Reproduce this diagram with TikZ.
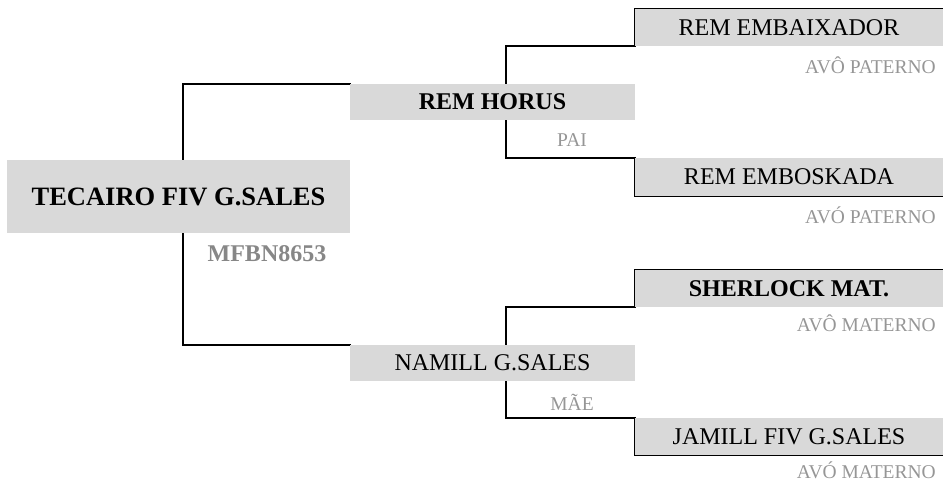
\documentclass[tikz,border=0pt]{standalone}
\usepackage{fontspec}
\setmainfont{Liberation Serif}
\usetikzlibrary{backgrounds}
\definecolor{boxgray}{RGB}{217,217,217}
\definecolor{lblgray}{RGB}{150,150,150}
\definecolor{idgray}{RGB}{135,135,135}
\begin{document}
\begin{tikzpicture}[x=1pt,y=-1pt,
  box/.style={fill=boxgray, inner sep=0pt, text=black},
  conn/.style={line width=2pt, black, line cap=rect},
  maintext/.style={font=\fontsize{26.5}{30}\selectfont\bfseries},
  pnreg/.style={font=\fontsize{24}{28}\selectfont},
  pnbold/.style={font=\fontsize{24}{28}\selectfont\bfseries},
  lbl/.style={font=\fontsize{19.5}{22}\selectfont, text=lblgray, inner sep=0pt}
]
\useasboundingbox (0,0) rectangle (943,482);
% nodes
\node[box, maintext, minimum width=343pt, minimum height=73pt] (main) at (178.5,196.5) {TECAIRO FIV G.SALES};
\node[pnbold, text=idgray, inner sep=0pt] (reg) at (267,254) {MFBN8653};
\node[box, pnbold, minimum width=285pt, minimum height=36pt] (father) at (492.5,102) {REM HORUS};
\node[lbl] (pai) at (572,140) {PAI};
\node[box, pnreg, minimum width=285pt, minimum height=36pt] (mother) at (492.5,363) {NAMILL G.SALES};
\node[lbl] (mae) at (572,402) {MÃE};
\node[box, pnreg, minimum width=308pt, minimum height=37pt] (gp1) at (789,27.5) {REM EMBAIXADOR};
\node[lbl, anchor=east] (l1) at (936,65) {AVÔ PATERNO};
\node[box, pnreg, minimum width=308pt, minimum height=38pt] (gp2) at (789,177) {REM EMBOSKADA};
\node[lbl, anchor=east] (l2) at (936,215) {AVÓ PATERNO};
\node[box, pnbold, minimum width=308pt, minimum height=37pt] (gp3) at (789,288.5) {SHERLOCK MAT.};
\node[lbl, anchor=east] (l3) at (936,323) {AVÔ MATERNO};
\node[box, pnreg, minimum width=308pt, minimum height=37pt] (gp4) at (789,436.5) {JAMILL FIV G.SALES};
\node[lbl, anchor=east] (l4) at (936,470) {AVÓ MATERNO};
% connectors
\coordinate (mx) at (183,0);
\coordinate (fx) at (506,0);
\begin{scope}[on background layer]
\draw[conn] (main.north -| mx) |- (father.north west);
\draw[conn] (main.south -| mx) |- (mother.north west);
\draw[conn] (father.north -| fx) |- (gp1.south west) -- (gp1.north west) -- (gp1.north east);
\draw[conn] (father.south -| fx) |- (gp2.north west) -- (gp2.south west) -- (gp2.south east);
\draw[conn] (mother.north -| fx) |- (gp3.south west) -- (gp3.north west) -- (gp3.north east);
\draw[conn] (mother.south -| fx) |- (gp4.north west) -- (gp4.south west) -- (gp4.south east);
\end{scope}
\end{tikzpicture}
\end{document}
